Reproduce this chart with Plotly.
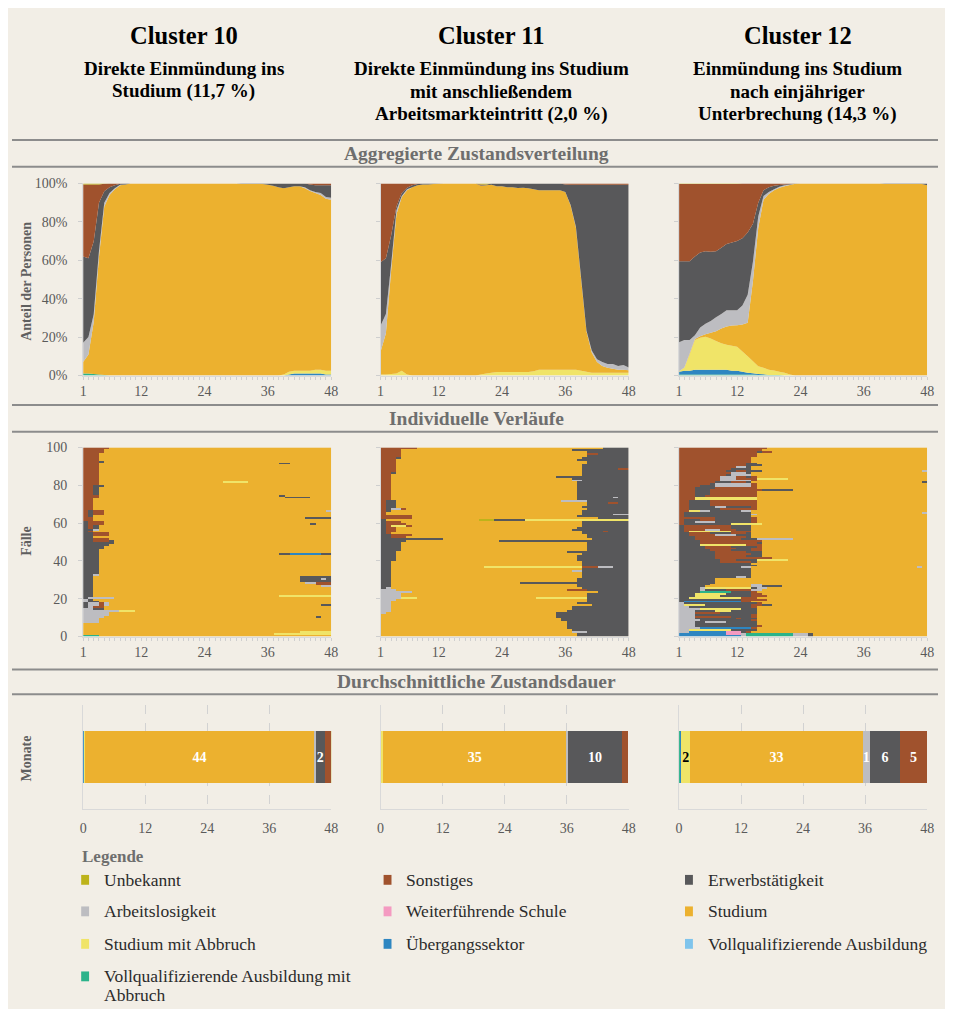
import sys
import plotly.graph_objects as go

# page is 953 x 1017; the browser body keeps its 8 px margin around the figure
PAGE_W, PAGE_H = 953, 1017
OFF = 8
W, H = PAGE_W - 2 * OFF, PAGE_H - 2 * OFF
FONT = "Liberation Serif"

# ---------------- states ----------------
STATE_CODES = ["K", "O", "E", "A", "W", "S", "B", "T", "V", "G"]
STATE_NAMES = ["Unbekannt", "Sonstiges", "Erwerbstätigkeit",
               "Arbeitslosigkeit", "Weiterführende Schule", "Studium",
               "Studium mit Abbruch", "Übergangssektor", "Vollqualifizierende Ausbildung",
               "Vollqualifizierende Ausbildung mit Abbruch"]
STATE_COLORS = ["#bdb31a", "#a0522d", "#58585a", "#bdbdc1", "#f49ac1",
                "#ecb12f", "#f0e468", "#2e86c1", "#7fc4ec", "#2bb38a"]
STACK_ORDER = ["G", "V", "T", "B", "S", "W", "A", "E", "O", "K"]

MONTHS = list(range(1, 49))
MONTH_TICKS = [1, 12, 24, 36, 48]
SHARE_TICKS = [0, 20, 40, 60, 80, 100]
CASE_TICKS = [0, 20, 40, 60, 80, 100]
DUR_TICKS = [0, 12, 24, 36, 48]

CLUSTER_TITLES = ["Cluster 10", "Cluster 11", "Cluster 12"]
CLUSTER_SUBTITLES = [
    ["Direkte Einmündung ins", "Studium (11,7 %)"],
    ["Direkte Einmündung ins Studium", "mit anschließendem", "Arbeitsmarkteintritt (2,0 %)"],
    ["Einmündung ins Studium", "nach einjähriger", "Unterbrechung (14,3 %)"],
]
SECTION_TITLES = ["Aggregierte Zustandsverteilung", "Individuelle Verläufe",
                  "Durchschnittliche Zustandsdauer"]
ROW_AXIS_TITLES = ["Anteil der Personen", "Fälle", "Monate"]
LEGEND_TITLE = "Legende"

# ---------------- aggregated state distribution (% per month) ----------------
Z12 = [0, 0, 0, 0, 0, 0, 0, 0, 0, 0, 0, 0]

C10_G = [1, 1, 0.8, 0.5, 0.3, 0, 0, 0, 0, 0, 0, 0] + Z12 + Z12 + Z12
C10_T = Z12 + Z12 + Z12 + [0, 0, 0, 0.5, 1, 1, 1, 1, 1, 1, 0.5, 0.5]
C10_B = Z12 + Z12 + Z12 + [0, 0, 0.5, 1.5, 1.5, 1.5, 1.5, 1.5, 2, 2, 2, 2]
C10_S = [6, 10, 27, 61, 87.5, 94, 97, 99, 99.5, 100, 100, 100,
         100, 100, 100, 100, 100, 100, 100, 100, 100, 100, 100, 100,
         100, 100, 100, 100, 100, 100, 99.7, 99.7, 99.7, 99.7, 99.7, 99.3,
         98.8, 98, 97, 96, 95.5, 95.5, 95, 93.5, 92, 91, 89.5, 89]
C10_A = [10, 9, 4, 3, 2, 1, 0.5, 0.3, 0, 0, 0, 0] + Z12 + Z12 + \
        [0, 0, 0, 0, 0, 0, 0.5, 0.5, 0.5, 1, 1, 1]
C10_E = [45, 41, 38, 25, 6, 3, 1.5, 0.5, 0.5, 0, 0, 0] + Z12 + \
        [0, 0, 0, 0, 0, 0, 0.3, 0.3, 0.3, 0.3, 0.3, 0.7] + \
        [1.2, 2, 2.5, 2, 1.5, 1.5, 2, 3, 3.5, 4, 6, 6.5]
C10_O = [37.5, 38.5, 29.5, 9.5, 3.8, 2, 1, 0.2, 0, 0, 0, 0] + Z12 + Z12 + \
        [0, 0, 0, 0, 0, 0, 0, 0.5, 1, 1, 1, 1]
C10_K = [0.5, 0.5, 0.5, 0.5, 0.2, 0, 0, 0, 0, 0, 0, 0] + Z12 + Z12 + Z12

C11_B = [0.5, 0.5, 0.8, 1, 2.5, 0.5, 0, 0, 0, 0, 0, 0,
         0, 0, 0, 0, 0, 0, 0, 0.5, 1, 1.5, 1.8, 1.8,
         1.8, 1.8, 1.8, 1.8, 1.8, 2.2, 3, 3, 3, 3, 3, 3,
         3, 3, 2.5, 2, 1.5, 1.5, 1.5, 1.5, 1.5, 1.5, 1.5, 1.5]
C11_S = [12, 21.5, 54.2, 83, 90.5, 96, 98, 99, 99.5, 99.5, 99.7, 99.8,
         100, 100, 100, 100, 100, 100, 100, 98.3, 98, 97.8, 96.7, 96.7,
         96.2, 96.2, 95.8, 96, 95.7, 94.8, 93.5, 93.5, 93.5, 93.5, 93.5, 92.5,
         85.5, 74, 47.5, 21, 10.5, 5.5, 3.5, 2.5, 2, 1.5, 1.5, 1.2]
C11_A = [13.5, 10, 3, 2, 0.5, 0.5, 0, 0, 0, 0, 0, 0] + Z12 + Z12 + \
        [0.3, 0.5, 0.5, 0.5, 1, 1.5, 2, 2, 2.5, 2, 2.5, 1.5]
C11_E = [33, 29, 15, 2, 1.5, 0.8, 1, 0.7, 0.5, 0.5, 0.3, 0.2,
         0, 0, 0, 0, 0, 0, 0, 0.2, 0.3, 0.7, 1.5, 1.5,
         2, 2, 2.4, 2.2, 2.5, 3, 3.5, 3.5, 3.5, 3.5, 3.5, 4,
         10.5, 21.8, 48.8, 75.8, 86.3, 90.8, 92.3, 93.3, 93.3, 94.3, 93.8, 95.1]
C11_O = [41, 39, 27, 12, 5, 2.2, 1, 0.3, 0, 0, 0, 0,
         0, 0, 0, 0, 0, 0, 0, 0.4, 0.2, 0, 0, 0,
         0, 0, 0, 0, 0, 0, 0, 0, 0, 0, 0, 0.5,
         0.7, 0.7, 0.7, 0.7, 0.7, 0.7, 0.7, 0.7, 0.7, 0.7, 0.7, 0.7]
C11_K = Z12 + [0, 0, 0, 0, 0, 0, 0, 0.6, 0.5, 0, 0, 0] + Z12 + Z12

C12_G = [0.5, 0.5, 0.5, 0.5, 0.5, 0.5, 0.5, 0.5, 0.5, 0.5, 0.5, 0.5,
         0.5, 0.5, 0.5, 0.3, 0.3, 0.3, 0.3, 0.3, 0, 0, 0, 0] + Z12 + Z12
C12_T = [1.5, 2, 2, 2.5, 2.5, 2.5, 2.5, 2.5, 2.5, 2.5, 2, 2,
         1.5, 1, 0.7, 0.5, 0.3, 0, 0, 0, 0, 0, 0, 0] + Z12 + Z12
C12_B = [0.2, 1.5, 8.5, 15.5, 16.7, 17.2, 16.3, 15, 13.8, 13, 13, 12.5,
         10.5, 8.5, 6.2, 4, 3.4, 2.7, 2.3, 1.6, 1.4, 0.5, 0, 0] + Z12 + Z12
C12_S = [0, 0.2, 0.5, 0.5, 0.8, 1.3, 3, 5, 7.7, 9.5, 10.5, 11.2,
         14, 17.5, 42, 72, 87.5, 91.5, 93.9, 95.9, 97.1, 98.7, 99.8, 100,
         100, 100, 100, 100, 100, 100, 100, 100, 100, 100, 100, 100,
         100, 100, 100, 99.7, 99.7, 99.7, 99.7, 99.7, 99.7, 99.7, 99.7, 99]
C12_A = [15.1, 14.3, 7, 2, 4.5, 5.5, 6.1, 7.4, 7.5, 8.5, 8, 7.8,
         9.9, 14.5, 10, 6, 2, 1, 0.5, 0.5, 0.5, 0.3, 0.1, 0] + Z12 + Z12
C12_E = [42.2, 41, 41, 41, 39, 37.7, 36.1, 34.3, 34.5, 34.5, 35.3, 36,
         35.1, 32.5, 19.6, 7.2, 3, 2.5, 1.8, 0.9, 0.5, 0.2, 0.1, 0] + Z12 + \
        [0, 0, 0, 0.3, 0.3, 0.3, 0.3, 0.3, 0.3, 0.3, 0.3, 1]
C12_O = [40.2, 40.2, 40.2, 37.7, 35.7, 35, 35.2, 35, 33.2, 31.2, 30.4, 29.7,
         28.5, 25.5, 21, 10, 3.5, 2, 1.2, 0.8, 0.5, 0.3, 0, 0] + Z12 + Z12
C12_K = [0.3, 0.3, 0.3, 0.3, 0.3, 0.3, 0.3, 0.3, 0.3, 0.3, 0.3, 0.3] + Z12 + Z12 + Z12

# ---------------- individual sequences (count, run-lengths), bottom -> top ----------------
C10_SEQ = [
    (1, "G3 S45"), (1, "S37 B11"), (1, "S42 B6"), (4, "S48"),
    (3, "A3 S45"), (1, "A4 S41 E1 S2"), (2, "A5 S43"), (1, "A7 B3 S38"),
    (1, "A2 E2 S44"), (1, "E1 A1 O2 S44"), (1, "E1 A2 O1 A1 S41 E2"),
    (1, "E1 A2 O1 A1 S43"), (1, "A1 E2 S45"), (1, "A1 E1 S46"), (1, "E1 A5 S42"),
    (1, "E2 S36 B10"), (4, "E2 S46"), (1, "E2 S44 A2"), (1, "E2 S43 O3"),
    (1, "E2 S41 A2 O3"), (1, "E2 S40 E6"), (1, "E2 S40 E4 A1 E1"), (1, "E2 S40 E6"),
    (1, "E2 A1 S45"), (10, "E3 S45"), (1, "E3 S35 E2 T6 E2"), (2, "E3 S45"),
    (2, "E4 S44"), (1, "E5 S43"), (1, "E6 S42"), (1, "E2 O3 E1 S42"),
    (1, "E2 O3 S43"), (1, "E2 S46"), (2, "E2 O3 S43"), (1, "E1 O1 S46"),
    (1, "E2 A1 S45"), (2, "E1 O1 E1 S45"), (1, "E1 O3 S40 E1 S3"), (1, "E1 O3 S44"),
    (1, "O2 S46"), (1, "O2 S41 E5"), (1, "O1 E1 S46"), (2, "O1 E1 O2 S44"),
    (1, "O1 E1 O2 S43 A1"), (6, "O2 S46"), (1, "O3 S36 E5 S4"), (1, "O3 S35 E1 S9"),
    (4, "O2 E1 S45"), (1, "O2 E2 S44"), (1, "O3 S45"), (1, "O3 S24 B5 S16"),
    (9, "O3 S45"), (1, "O3 S35 E2 S8"), (1, "O3 E1 S44"), (4, "O3 S45"),
    (2, "O4 S44"), (1, "O5 S43"),
]
C11_SEQ = [
    (2, "S38 E10"), (1, "S37 A3 E8"), (1, "S37 E11"), (4, "S36 E12"), (2, "S35 E13"),
    (2, "S34 E14"), (1, "A1 S33 E14"), (1, "A2 S34 E12"), (2, "A2 S35 E11"),
    (1, "A2 S39 E7"), (1, "A2 S36 E10"), (1, "A2 S38 E8"), (1, "A3 S37 E8"),
    (1, "A4 B3 S23 B10 E8"), (2, "A4 S36 E8"), (1, "A6 S36 E6"), (1, "A3 S33 O4 E8"),
    (1, "E1 A1 S37 E9"), (2, "E2 S36 E10"), (1, "E2 S25 E21"), (2, "E2 S36 E10"),
    (3, "E2 S37 E9"), (1, "E2 S35 A2 E9"), (1, "E2 S37 E9"), (1, "E2 S18 B19 O3 A3 E3"),
    (3, "E2 S37 E9"), (3, "E3 S35 E10"), (1, "E3 S36 E9"), (1, "E3 S33 E12"),
    (5, "E4 S36 E8"), (1, "E5 S18 E25"), (1, "E12 S29 E7"), (1, "E2 O3 S35 E8"),
    (1, "E2 O4 S34 E8"), (1, "E1 O1 S37 E9"), (1, "E1 O2 S36 E4 O1 E4"),
    (1, "E1 O2 S34 E11"), (1, "E1 O2 S35 E10"), (1, "E1 O1 B3 O1 S33 E9"),
    (1, "E1 O4 S34 E9"), (1, "E1 O3 S35 E9"), (1, "E1 S18 K3 E6 B20"),
    (1, "O6 S36 E6"), (1, "O6 S32 E10"), (1, "O1 S38 E6 A3"), (1, "O1 S38 E9"),
    (1, "O1 E1 S37 E9"), (1, "O1 E1 A2 O1 S35 E8"), (1, "O1 E2 S36 E9"),
    (1, "O1 E2 S37 E8"), (1, "O1 E2 S37 E4 O2 E2"), (1, "O1 E2 S32 A5 E8"),
    (1, "O2 S36 E10"), (1, "O2 S36 E7 A1 E2"), (8, "O2 S36 E10"), (1, "O2 S35 A2 E9"),
    (1, "O2 S35 E11"), (1, "O2 S32 E14"), (1, "O2 S37 E9"), (1, "O2 E1 S36 E9"),
    (1, "O3 S36 E9"), (1, "O3 S36 E7 O2"), (2, "O3 S36 E9"), (2, "O3 S37 E8"),
    (1, "O3 S35 E10"), (1, "O3 E1 S35 E9"), (1, "O4 S36 E8"), (1, "O4 S36 O2 E6"),
    (1, "O4 S36 E8"), (1, "O4 S33 E11"), (1, "O7 S36 E5"),
]
C12_SEQ = [
    (1, "T12 A1 G9 A3 E1 S22"), (1, "T9 W3 A1 G9 A3 E1 S22"), (1, "A2 T7 W3 E1 O1 S34"),
    (1, "A2 B8 E5 S33"), (1, "A4 T10 O1 S33"), (1, "A3 E12 O1 S32"), (1, "A3 E12 S33"),
    (1, "A3 E2 A4 E6 S33"), (1, "A4 E10 O1 S33"), (1, "A3 E8 O1 E3 S33"),
    (1, "A3 O7 E4 O1 S33"), (1, "A3 E11 O1 S33"), (1, "A3 O5 E7 S33"),
    (1, "A3 E4 B3 E5 S33"), (1, "A4 B8 E3 S33"), (1, "A2 E12 O1 S33"),
    (1, "A1 B4 E9 O2 E2 S30"), (1, "A1 E14 O1 S32"), (1, "E1 T11 O2 S34"),
    (1, "E12 O5 S31"), (1, "E2 B10 O3 S33"), (1, "E3 B5 E6 O3 S31"),
    (1, "E3 B6 E5 O2 S32"), (1, "E4 G6 E4 O1 S33"), (1, "E4 A1 E4 O5 A2 S32"),
    (1, "E4 A1 B9 E1 A2 S31"), (1, "E5 S9 A2 E4 S28"), (1, "E6 S8 A2 S32"),
    (3, "E7 S41"), (1, "E11 A2 E1 S34"), (4, "E14 S34"), (1, "E12 A2 S32 A1 S1"),
    (1, "E15 S33"), (1, "E14 S34"), (1, "E8 O6 E1 S33"), (1, "E8 O3 E4 B6 S27"),
    (1, "E7 O11 S30"), (1, "E7 O6 E3 S32"), (1, "E7 O7 E2 S32"), (1, "E7 O6 E3 S32"),
    (1, "E6 O4 E4 O2 S32"), (1, "E5 O6 E3 O2 S32"), (1, "E5 O5 E5 O1 S32"),
    (1, "E4 B9 O3 S32"), (1, "E4 O11 E1 S32"), (1, "E4 O12 S32"),
    (1, "E3 O9 E3 A7 S26"), (1, "E3 O10 E1 S34"), (1, "E2 O5 A4 E3 S34"),
    (1, "E2 O4 E4 O3 E1 S34"), (1, "E1 O1 B8 O4 S34"), (1, "E1 O4 A3 O3 E3 S34"),
    (2, "E1 O9 E4 S34"), (1, "O1 E9 B6 S32"), (1, "O1 E2 A4 E7 O1 S33"),
    (1, "O1 E3 O3 E7 O1 S33"), (1, "O7 E7 O1 S33"), (1, "O1 E13 S34"),
    (1, "O1 E13 A1 S33"), (1, "O1 E13 S33 A1"), (1, "O2 B2 A2 E6 A2 S34"),
    (1, "O2 E6 O7 S33"), (1, "O2 E5 A2 E5 O1 S33"), (3, "O2 E4 O9 S33"),
    (2, "O3 B12 S33"), (1, "O3 E2 O10 S33"), (2, "O3 E3 O9 S33"),
    (1, "O3 E3 O10 E6 S26"), (1, "O3 E4 O8 S33"), (1, "O4 E3 A7 O1 S33"),
    (1, "O6 E1 A7 O1 S33"), (1, "O7 E3 O3 E1 S33 E1"), (1, "O8 A6 O1 S33"),
    (1, "O8 A3 O4 B6 S27"), (1, "O8 A3 O2 E1 O1 S33"), (1, "O9 E1 A4 S34"),
    (1, "O10 A3 E1 S34"), (1, "O9 E2 O2 E3 S31 A1"), (1, "O10 E4 S34"),
    (1, "O11 A2 E1 S34"), (1, "O13 E3 S32"), (1, "O13 E2 S33"), (3, "O14 S34"),
    (2, "O15 S33"), (1, "O15 E1 O2 S30"), (1, "O16 S32"), (1, "O17 S31"),
]

# ---------------- mean duration in months (order = STACK_ORDER) ----------------
C10_DUR = [0.05, 0, 0.08, 0.16, 44.4, 0, 0.3, 1.8, 1.25, 0.02]
C11_DUR = [0, 0, 0, 0.5, 35.4, 0, 0.4, 10.4, 1.2, 0.02]
C12_DUR = [0.1, 0, 0.3, 1.8, 33.3, 0, 1.4, 5.9, 5.1, 0.05]
LABEL_MIN = 1.3

SHARES = [
    {"G": C10_G, "T": C10_T, "B": C10_B, "S": C10_S, "A": C10_A, "E": C10_E, "O": C10_O, "K": C10_K},
    {"B": C11_B, "S": C11_S, "A": C11_A, "E": C11_E, "O": C11_O, "K": C11_K},
    {"G": C12_G, "T": C12_T, "B": C12_B, "S": C12_S, "A": C12_A, "E": C12_E, "O": C12_O, "K": C12_K},
]
SEQS = [C10_SEQ, C11_SEQ, C12_SEQ]
DURS = [C10_DUR, C11_DUR, C12_DUR]

COLOR = dict(zip(STATE_CODES, STATE_COLORS))

# ---------------- geometry (page pixels) ----------------
COL_PX = [(80, 331), (381, 632), (683, 934)]
ROW_PX = [(179, 374), (447, 639), (709, 814)]
TITLE_X = [182, 493, 803]
SEP_LINES = [135, 162, 404, 431, 672.5, 697.5]
SECTION_Y = [148.5, 418, 685]
AXIS_TITLE_Y = [278, 542, 763]


def px(x):
    return (x - OFF) / W


def py(y):
    return 1 - (y - OFF) / H


def expand(groups):
    z = []
    for count, spec in groups:
        row = []
        for tok in spec.split():
            row += [STATE_CODES.index(tok[0])] * int(tok[1:])
        if len(row) != 48:
            print("row length", len(row), spec, file=sys.stderr)
            row = (row + [row[-1]] * 48)[:48]
        for _ in range(count):
            z.append(list(row))
    if len(z) != 100:
        print("rows", len(z), file=sys.stderr)
    return z


fig = go.Figure()


def ax_names(r, c):
    n = r * 3 + c + 1
    return ("x" if n == 1 else f"x{n}"), ("y" if n == 1 else f"y{n}"), n


# Row 1: stacked areas
for c in range(3):
    xa, ya, n = ax_names(0, c)
    for code in STACK_ORDER:
        vals = SHARES[c].get(code)
        if vals is None:
            continue
        fig.add_trace(go.Scatter(
            x=MONTHS, y=vals, stackgroup=f"agg{c}", groupnorm="percent",
            mode="none", fillcolor=COLOR[code], line=dict(width=0),
            xaxis=xa, yaxis=ya, hoverinfo="skip", showlegend=False))

# Row 2: index plots
nst = len(STATE_COLORS)
cscale = []
for i, col in enumerate(STATE_COLORS):
    cscale.append([i / nst, col])
    cscale.append([(i + 1) / nst, col])
XEDGES = [1 + k * 47 / 48 for k in range(49)]
for c in range(3):
    xa, ya, n = ax_names(1, c)
    z = expand(SEQS[c])
    fig.add_trace(go.Heatmap(
        z=z, x=XEDGES, y=list(range(len(z) + 1)), zmin=-0.5, zmax=nst - 0.5,
        colorscale=cscale, showscale=False, hoverinfo="skip",
        xaxis=xa, yaxis=ya))

# Row 3: mean durations
for c in range(3):
    xa, ya, n = ax_names(2, c)
    for code, v in zip(STACK_ORDER, DURS[c]):
        if v <= 0:
            continue
        lab = str(int(v + 0.5)) if v >= LABEL_MIN else ""
        fig.add_trace(go.Bar(
            x=[v], y=[0], orientation="h", width=0.505,
            marker=dict(color=COLOR[code], line=dict(width=0)),
            text=[lab], textposition="inside", insidetextanchor="middle",
            textangle=0,
            textfont=dict(family=FONT, size=14, weight="bold",
                          color="#000000" if code == "B" else "#ffffff"),
            xaxis=xa, yaxis=ya, hoverinfo="skip", showlegend=False))

AX_LINE = "#d9d9d9"
TICK_COL = "#cfcfcf"
TICK_FONT = dict(family=FONT, size=14, color="#5a5a5a")

layout = dict(
    width=W, height=H, autosize=False,
    margin=dict(l=0, r=0, t=0, b=0),
    paper_bgcolor="#f2eee6", plot_bgcolor="rgba(0,0,0,0)",
    barmode="stack", bargap=0, hovermode=False,
    uniformtext=dict(minsize=14, mode="show"),
    font=dict(family=FONT, color="#333333"),
    showlegend=False,
)

for r in range(3):
    for c in range(3):
        xa, ya, n = ax_names(r, c)
        xk = "xaxis" if n == 1 else f"xaxis{n}"
        yk = "yaxis" if n == 1 else f"yaxis{n}"
        x0, x1 = COL_PX[c]
        y0, y1 = ROW_PX[r]
        xdom = [px(x0), px(x1)]
        ydom = [py(y1), py(y0)]
        if r < 2:
            layout[xk] = dict(
                domain=xdom, anchor=ya, range=[1, 48], tickmode="array",
                tickvals=MONTHS,
                ticktext=[str(m) if m in MONTH_TICKS else "" for m in MONTHS],
                ticks="outside", ticklen=3, tickcolor=TICK_COL, tickwidth=1,
                showline=True, linecolor=AX_LINE, linewidth=1,
                showgrid=False, zeroline=False, tickfont=TICK_FONT, fixedrange=True)
            tv = SHARE_TICKS if r == 0 else CASE_TICKS
            tt = [f"{v}%" for v in tv] if r == 0 else [str(v) for v in tv]
            layout[yk] = dict(
                domain=ydom, anchor=xa, range=[0, 100], tickmode="array",
                tickvals=tv, ticktext=tt, showticklabels=(c == 0),
                ticks="outside", ticklen=4, tickcolor=TICK_COL,
                showline=True, linecolor=AX_LINE, linewidth=1,
                showgrid=False, zeroline=False, tickfont=TICK_FONT,
                ticklabelstandoff=8, fixedrange=True)
        else:
            layout[xk] = dict(
                domain=xdom, anchor=ya, range=[0, 48], tickmode="array",
                tickvals=DUR_TICKS, ticktext=[str(v) for v in DUR_TICKS],
                ticks="", showline=True, linecolor=AX_LINE, linewidth=1,
                showgrid=True, gridcolor="#d2d2d2", griddash="dash", gridwidth=1,
                zeroline=False, tickfont=TICK_FONT, ticklabelstandoff=6,
                fixedrange=True)
            layout[yk] = dict(
                domain=ydom, anchor=xa, range=[-0.5, 0.5], showticklabels=False,
                ticks="", showline=True, linecolor=AX_LINE, linewidth=1,
                showgrid=False, zeroline=False, fixedrange=True)

shapes = []
for yy in SEP_LINES:
    shapes.append(dict(type="line", xref="paper", yref="paper", x0=0, x1=1,
                       y0=py(yy), y1=py(yy), line=dict(color="#8c8c8c", width=2),
                       layer="above"))

annotations = []
for c in range(3):
    annotations.append(dict(
        text=f"<b>{CLUSTER_TITLES[c]}</b>", x=px(TITLE_X[c]), y=py(29),
        xref="paper", yref="paper", showarrow=False, xanchor="center", yanchor="middle",
        font=dict(family=FONT, size=24.5, color="#000000")))
    for k, line in enumerate(CLUSTER_SUBTITLES[c]):
        annotations.append(dict(
            text=f"<b>{line}</b>", x=px(TITLE_X[c]), y=py(62 + 23.5 * k),
            xref="paper", yref="paper", showarrow=False, xanchor="center", yanchor="middle",
            font=dict(family=FONT, size=19, color="#000000")))
for s, t in enumerate(SECTION_TITLES):
    annotations.append(dict(
        text=f"<b>{t}</b>", x=px(478), y=py(SECTION_Y[s]), xref="paper", yref="paper",
        showarrow=False, xanchor="center", yanchor="middle",
        font=dict(family=FONT, size=19.5, color="#6e6e6e")))
for r, t in enumerate(ROW_AXIS_TITLES):
    annotations.append(dict(
        text=f"<b>{t}</b>", x=px(23), y=py(AXIS_TITLE_Y[r]), xref="paper", yref="paper",
        showarrow=False, xanchor="center", yanchor="middle", textangle=-90,
        font=dict(family=FONT, size=14, color="#5f5f5f")))

# legend
annotations.append(dict(
    text=f"<b>{LEGEND_TITLE}</b>", x=px(77), y=py(862), xref="paper", yref="paper",
    showarrow=False, xanchor="left", yanchor="middle",
    font=dict(family=FONT, size=17, color="#6e6e6e")))
LEG_SQ_X = [78, 384, 689]
LEG_TX_X = [99, 405, 710]
LEG_ROW_Y = [886, 918, 951, 984]
LEG_LINE_STEP = 19
for i, (name, col) in enumerate(zip(STATE_NAMES, STATE_COLORS)):
    rr, cc = divmod(i, 3)
    yc = LEG_ROW_Y[rr]
    shapes.append(dict(type="rect", xref="paper", yref="paper",
                       x0=px(LEG_SQ_X[cc]), x1=px(LEG_SQ_X[cc] + 8),
                       y0=py(yc + 5), y1=py(yc - 5), fillcolor=col, line=dict(width=0)))
    words = name.split(" ")
    lines, cur = [], ""
    for w_ in words:
        cand = (cur + " " + w_).strip()
        if len(cand) > 34 and cur:
            lines.append(cur)
            cur = w_
        else:
            cur = cand
    lines.append(cur)
    for k, ln in enumerate(lines):
        annotations.append(dict(
            text=ln, x=px(LEG_TX_X[cc]), y=py(yc + LEG_LINE_STEP * k), xref="paper", yref="paper",
            showarrow=False, xanchor="left", yanchor="middle",
            font=dict(family=FONT, size=17.5, color="#2b2b2b")))

layout["shapes"] = shapes
layout["annotations"] = annotations
fig.update_layout(**layout)
fig.write_html("out.html", config={"displayModeBar": False, "staticPlot": True})
